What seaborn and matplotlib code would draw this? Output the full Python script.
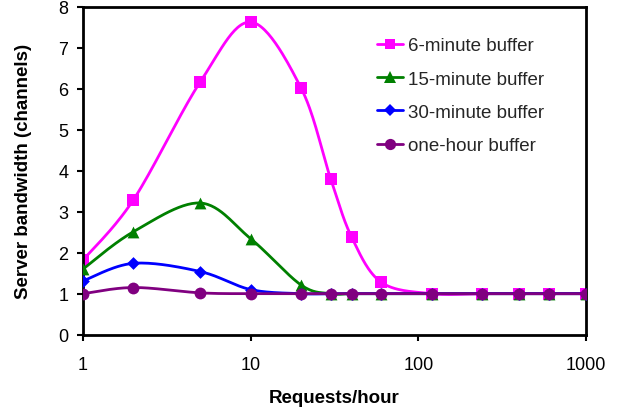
import numpy as np
import pandas as pd
import matplotlib
matplotlib.use("Agg")
import matplotlib.pyplot as plt
from matplotlib.lines import Line2D
import seaborn as sns

requests = [1, 2, 5, 10, 20, 30, 40, 60, 120, 240, 400, 600, 1000]
buf6 = [1.82, 3.29, 6.16, 7.62, 6.01, 3.80, 2.38, 1.28, 1.0, 1.0, 1.0, 1.0, 1.0]
buf15 = [1.60, 2.51, 3.21, 2.34, 1.21, 1.0, 1.0, 1.0, 1.0, 1.0, 1.0, 1.0, 1.0]
buf30 = [1.31, 1.74, 1.54, 1.10, 1.0, 1.0, 1.0, 1.0, 1.0, 1.0, 1.0, 1.0, 1.0]
buf60 = [1.0, 1.15, 1.02, 1.0, 1.0, 1.0, 1.0, 1.0, 1.0, 1.0, 1.0, 1.0, 1.0]
labels = ["6-minute buffer", "15-minute buffer", "30-minute buffer", "one-hour buffer"]
colors = ["#FF00FF", "#008000", "#0000FF", "#800080"]
markers = ["s", "^", "D", "o"]
msizes = [8, 8.5, 6.5, 8.5]

sns.set_theme(style="white")
plt.rcParams["font.family"] = ["Liberation Sans", "DejaVu Sans"]

fig = plt.figure(figsize=(6.2, 4.1), dpi=100)
ax = fig.add_axes([83 / 620, (410 - 335.7) / 410, (586 - 83) / 620, (335.7 - 7.5) / 410])

SX, SY = 167.7, 41.0  # pixel scale for smoothing


def smooth(xs, ys, n=30):
    u = np.log10(np.asarray(xs, float)) * SX
    v = np.asarray(ys, float) * SY
    P = np.column_stack([u, v])
    P = np.vstack([P[0], P, P[-1]])
    out = []
    for i in range(1, len(P) - 2):
        p0, p1, p2, p3 = P[i - 1], P[i], P[i + 1], P[i + 2]
        c1 = p1 + (p2 - p0) / 6.0
        c2 = p2 - (p3 - p1) / 6.0
        t = np.linspace(0, 1, n, endpoint=(i == len(P) - 3))[:, None]
        b = (1 - t) ** 3 * p1 + 3 * (1 - t) ** 2 * t * c1 + 3 * (1 - t) * t ** 2 * c2 + t ** 3 * p2
        out.append(b)
    out = np.vstack(out)
    return 10 ** (out[:, 0] / SX), out[:, 1] / SY


series = [buf6, buf15, buf30, buf60]
handles = []
for i, (ys, lab, col, mk, ms) in enumerate(zip(series, labels, colors, markers, msizes)):
    sx, sy = smooth(requests, ys)
    df = pd.DataFrame({"x": sx, "y": sy})
    sns.lineplot(data=df, x="x", y="y", ax=ax, color=col, linewidth=2.0,
                 sort=False, estimator=None, zorder=2 + i)
    dpts = pd.DataFrame({"x": requests, "y": ys})
    sns.scatterplot(data=dpts, x="x", y="y", ax=ax, color=col, marker=mk,
                    s=ms ** 2, linewidth=0, zorder=2.5 + i)
    handles.append(Line2D([], [], color=col, marker=mk, markersize=ms * 0.95,
                          linewidth=2.0, markeredgewidth=0))

ax.set_xscale("log")
ax.set_xlim(1, 1000)
ax.set_ylim(0, 8)
ax.set_xticks([1, 10, 100, 1000])
ax.set_xticklabels(["1", "10", "100", "1000"])
ax.xaxis.set_minor_locator(matplotlib.ticker.NullLocator())
ax.set_yticks(range(0, 9))
ax.tick_params(axis="both", which="major", direction="out", length=4.5, width=1.5,
               color="black", labelsize=13, labelcolor="black", bottom=True, left=True)
ax.tick_params(axis="x", pad=11)
ax.tick_params(axis="y", pad=6)
for sp in ax.spines.values():
    sp.set_visible(True)
    sp.set_color("black")
    sp.set_linewidth(2.0)
ax.grid(False)
ax.set_xlabel("Requests/hour", fontsize=13.5, fontweight="bold", color="black", labelpad=11)
ax.set_ylabel("Server bandwidth (channels)", fontsize=13.5, fontweight="bold", color="black", labelpad=19)

leg = fig.legend(handles, labels, loc="upper left", bbox_to_anchor=(377 / 620, 1 - 38 / 410),
                 bbox_transform=fig.transFigure,
                 frameon=False, fontsize=13.5, handlelength=1.4, handletextpad=0.28,
                 labelspacing=0.87, borderaxespad=0, borderpad=0)

fig.savefig("out.png", dpi=100)
